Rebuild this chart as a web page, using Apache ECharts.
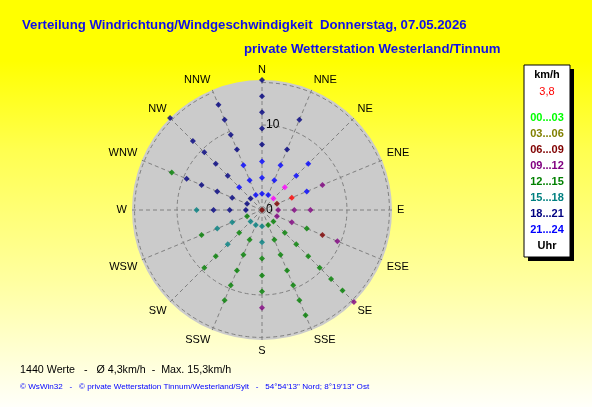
<!DOCTYPE html>
<html>
<head>
<meta charset="utf-8">
<script src="https://cdn.jsdelivr.net/npm/echarts@6/dist/echarts.min.js"></script>
<style>
html,body{margin:0;padding:0;}
#c{width:592px;height:407px;background:linear-gradient(to bottom,#ffff00 0%,#ffff00 15%,#ffff50 37%,#ffffa0 69%,#fffffa 100%);}
</style>
</head>
<body>
<div id="c"></div>
<script>
// ---- data ----
const directions = ['N','NNE','NE','ENE','E','ESE','SE','SSE','S','SSW','SW','WSW','W','WNW','NW','NNW'];
const radiusMax = 15.3;
const rangeLabels = ['00...03','03...06','06...09','09...12','12...15','15...18','18...21','21...24'];
const rangeColors = ['#00ff00','#808000','#800000','#800080','#008000','#008080','#000080','#0000ff'];

const h00_03 = [];
const h03_06 = [];
const h06_09 = [[0,'N'],[1.9,'ENE'],[7.7,'ESE']];
const h09_12 = [[1.9,'E'],[3.8,'E'],[5.7,'E'],[1.9,'ESE'],[3.8,'ESE'],[9.6,'ESE'],[7.7,'ENE'],[15.3,'SE'],[11.5,'S']];
const h12_15 = [[5.7,'ESE'],
  [1.9,'SE'],[3.8,'SE'],[5.7,'SE'],[7.7,'SE'],[9.6,'SE'],[11.5,'SE'],[13.4,'SE'],
  [1.9,'SSE'],[3.8,'SSE'],[5.7,'SSE'],[7.7,'SSE'],[9.6,'SSE'],[11.5,'SSE'],[13.4,'SSE'],
  [5.7,'S'],[7.7,'S'],[9.6,'S'],
  [3.8,'SSW'],[5.7,'SSW'],[7.7,'SSW'],[9.6,'SSW'],[11.5,'SSW'],
  [3.8,'SW'],[7.7,'SW'],[9.6,'SW'],
  [1.9,'WSW'],[7.7,'WSW'],
  [11.5,'WNW']];
const h15_18 = [[1.9,'S'],[3.8,'S'],[1.9,'SSW'],[1.9,'SW'],[5.7,'SW'],[3.8,'WSW'],[5.7,'WSW'],[7.7,'W']];
const h18_21 = [[7.7,'N'],[9.6,'N'],[11.5,'N'],[13.4,'N'],[15.3,'N'],
  [7.7,'NNE'],[11.5,'NNE'],
  [1.9,'W'],[3.8,'W'],[5.7,'W'],
  [1.9,'WNW'],[3.8,'WNW'],[5.7,'WNW'],[7.7,'WNW'],[9.6,'WNW'],
  [1.9,'NW'],[5.7,'NW'],[7.7,'NW'],[9.6,'NW'],[11.5,'NW'],[15.3,'NW'],
  [7.7,'NNW'],[9.6,'NNW'],[11.5,'NNW'],[13.4,'NNW']];
const h21_24 = [[1.9,'N'],[3.8,'N'],[5.7,'N'],[1.9,'NNE'],[3.8,'NNE'],[5.7,'NNE'],
  [5.7,'NE'],[7.7,'NE'],[5.7,'ENE'],[3.8,'NW'],[1.9,'NNW'],[3.8,'NNW'],[5.7,'NNW']];
const lastHour = [[1.9,'NE'],[3.8,'NE']];
const currentWind = [[3.8,'ENE']];
const currentSpeedText = '3,8';

const titleLine1 = 'Verteilung Windrichtung/Windgeschwindigkeit  Donnerstag, 07.05.2026';
const titleLine2 = 'private Wetterstation Westerland/Tinnum';
const footer1 = '1440 Werte   -   \u00d8 4,3km/h  -  Max. 15,3km/h';
const footer2 = '\u00a9 WsWin32   -   \u00a9 private Wetterstation Tinnum/Westerland/Sylt   -   54\u00b054\'13" Nord; 8\u00b019\'13" Ost';

// ---- chart ----
const chart = echarts.init(document.getElementById('c'), null, {renderer:'canvas'});
const FONT = 'Liberation Sans, Arial, sans-serif';
const groups = [h00_03,h03_06,h06_09,h09_12,h12_15,h15_18,h18_21,h21_24];

const series = groups.map((g,i)=>({
  type:'scatter', coordinateSystem:'polar', polarIndex:1, name:rangeLabels[i],
  symbol:'diamond', symbolSize:6, itemStyle:{color:rangeColors[i]}, data:g, z:5, silent:true
}));
series.push({type:'scatter',coordinateSystem:'polar',polarIndex:1,name:'last',symbol:'diamond',symbolSize:6,itemStyle:{color:'#ff00ff'},data:lastHour,z:6,silent:true});
series.push({type:'scatter',coordinateSystem:'polar',polarIndex:1,name:'current',symbol:'diamond',symbolSize:6,itemStyle:{color:'#ff0000'},data:currentWind,z:7,silent:true});

const legendTexts = [
  {text:'km/h', y:75, fill:'#000', bold:true},
  {text:currentSpeedText, y:92, fill:'#ff0000', bold:false}
];
rangeLabels.forEach((l,i)=>legendTexts.push({text:l, y:118+16*i, fill:rangeColors[i], bold:true}));
legendTexts.push({text:'Uhr', y:246, fill:'#000', bold:true});

const graphics = [
  {type:'text', x:22, y:25, style:{text:titleLine1, fill:'#1010e8', font:'bold 13.2px '+FONT, textVerticalAlign:'middle'}},
  {type:'text', x:244, y:49, style:{text:titleLine2, fill:'#1010e8', font:'bold 13.2px '+FONT, textVerticalAlign:'middle'}},
  {type:'rect', shape:{x:528, y:69, width:46, height:192}, style:{fill:'#000'}},
  {type:'rect', shape:{x:524, y:65, width:46, height:192}, style:{fill:'#fff', stroke:'#000', lineWidth:1}},
  {type:'text', x:20, y:370, style:{text:footer1, fill:'#000', font:'10.7px '+FONT, textVerticalAlign:'middle'}},
  {type:'text', x:20, y:387, style:{text:footer2, fill:'#0000ff', font:'8.1px '+FONT, textVerticalAlign:'middle'}}
];
legendTexts.forEach(t=>graphics.push({type:'text', x:547, y:t.y, style:{text:t.text, fill:t.fill, font:(t.bold?'bold ':'')+'11px '+FONT, textAlign:'center', textVerticalAlign:'middle'}}));

const option = {
  animation:false,
  polar:[{center:[262,210], radius:130},{center:[262,210], radius:130}],
  angleAxis:[
    {polarIndex:0, type:'category', data:directions, startAngle:90, boundaryGap:false, z:0,
     axisLine:{show:false}, axisTick:{show:false}, axisLabel:{show:false}, splitLine:{show:false},
     splitArea:{show:true, areaStyle:{color:['#cbcbcb']}}},
    {polarIndex:1, type:'category', data:directions, startAngle:90, boundaryGap:false, z:2,
     axisLine:{show:false}, axisTick:{show:false},
     axisLabel:{show:true, interval:0, margin:5, color:'#000', fontSize:11, fontFamily:FONT},
     splitLine:{show:true, interval:0, lineStyle:{color:'#808080', type:[4,3], width:1}},
     splitArea:{show:false}}
  ],
  radiusAxis:[
    {polarIndex:0, min:0, max:1, show:false},
    {polarIndex:1, type:'value', min:0, max:radiusMax, interval:5, z:2,
     axisLine:{show:false}, axisTick:{show:false},
     axisLabel:{show:true, margin:-4, align:'left', color:'#000', fontSize:12, fontFamily:FONT,
       formatter:v=> (v===0||v===10) ? String(v) : ''},
     splitLine:{show:true, lineStyle:{color:['#808080','rgba(0,0,0,0)','#808080','#808080','rgba(0,0,0,0)'], type:[4,3], width:1}},
     splitArea:{show:false}}
  ],
  graphic:graphics,
  series:series
};
chart.setOption(option);
</script>
</body>
</html>
